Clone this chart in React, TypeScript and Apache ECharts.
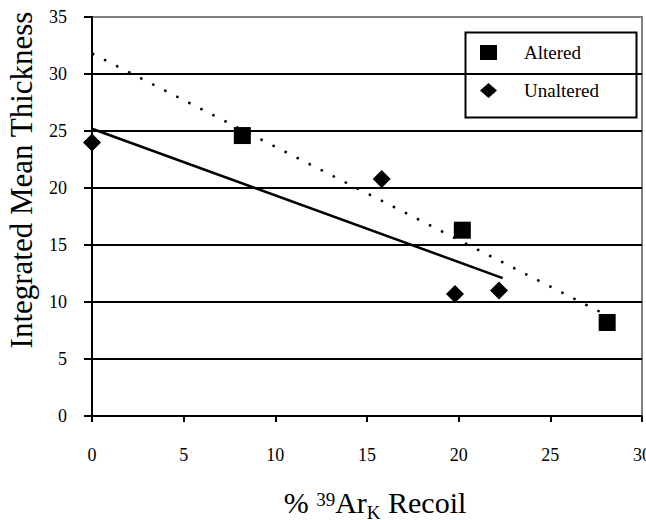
import React, { useEffect, useRef } from 'react';
import * as echarts from 'echarts';

const alteredX = [8.2, 20.2, 28.1];
const alteredY = [24.6, 16.3, 8.2];
const unalteredX = [0, 15.8, 19.8, 22.2];
const unalteredY = [24.0, 20.8, 10.7, 11.0];
const alteredFitX = [0, 28.0];
const alteredFitY = [31.8, 8.9];
const unalteredFitX = [0, 22.4];
const unalteredFitY = [25.2, 12.1];
const seriesNames = ['Altered', 'Unaltered'];
const xTitle = '% {sup|39}Ar{sub|K} Recoil';
const yTitle = 'Integrated Mean Thickness';

const FONT = 'Liberation Serif, Times New Roman, serif';

const zip = (xs: number[], ys: number[]) => xs.map((x, i) => [x, ys[i]]);

export default function App() {
  const ref = useRef<HTMLDivElement>(null);
  useEffect(() => {
    if (!ref.current) return;
    const chart = echarts.init(ref.current, null, { renderer: 'svg' });
    chart.setOption({
      animation: false,
      backgroundColor: '#fff',
      grid: {
        left: 92, right: 4, top: 17, bottom: 104,
        containLabel: false, outerBoundsMode: 'none',
        show: true, borderColor: '#808080', borderWidth: 2,
      },
      xAxis: {
        type: 'value', min: 0, max: 30, interval: 5,
        axisLine: { show: true, lineStyle: { color: '#000', width: 2 } },
        axisTick: { show: true, inside: false, length: 6, lineStyle: { color: '#000', width: 2 } },
        axisLabel: { color: '#000', fontFamily: FONT, fontSize: 18, margin: 30, showMaxLabel: true, hideOverlap: false },
        splitLine: { show: false },
      },
      yAxis: {
        type: 'value', min: 0, max: 35, interval: 5,
        axisLine: { show: true, lineStyle: { color: '#000', width: 2 } },
        axisTick: { show: true, inside: false, length: 8, lineStyle: { color: '#000', width: 2 } },
        axisLabel: { color: '#000', fontFamily: FONT, fontSize: 18, margin: 25 },
        splitLine: {
          show: true,
          lineStyle: { color: ['#000', '#000', '#000', '#000', '#000', '#000', '#000', '#808080'], width: 2 },
        },
      },
      legend: {
        orient: 'vertical',
        left: 475, top: 38,
        itemWidth: 17, itemHeight: 15, itemGap: 19,
        data: [
          { name: seriesNames[0], icon: 'rect', itemStyle: { color: '#000', opacity: 1 } },
          { name: seriesNames[1], icon: 'diamond', itemStyle: { color: '#000', opacity: 1 } },
        ],
        textStyle: { color: '#000', fontFamily: FONT, fontSize: 19, padding: [0, 0, 0, 22] },
      },
      graphic: [
        {
          type: 'rect', left: 463, top: 30, z: 100,
          shape: { x: 0, y: 0, width: 171, height: 85 },
          style: { fill: 'none', stroke: '#000', lineWidth: 2 },
        },
        {
          type: 'text', x: 21, y: 180, rotation: Math.PI / 2, z: 100,
          style: {
            text: yTitle, fill: '#000', fontFamily: FONT, fontSize: 31,
            align: 'center', verticalAlign: 'middle',
          },
        },
        {
          type: 'text', x: 375, y: 502, z: 100,
          style: {
            text: xTitle, fill: '#000', fontFamily: FONT, fontSize: 30,
            align: 'center', verticalAlign: 'middle',
            rich: {
              sup: { fontFamily: FONT, fontSize: 19, verticalAlign: 'top', lineHeight: 19, padding: [8, 0, 0, 0] },
              sub: { fontFamily: FONT, fontSize: 19, verticalAlign: 'bottom', lineHeight: 40 },
            },
          },
        },
      ],
      series: [
        {
          name: 'Altered fit', type: 'line', data: zip(alteredFitX, alteredFitY),
          symbol: 'none', lineStyle: { color: '#000', width: 2.5, type: [2.5, 11] }, z: 2,
          silent: true,
        },
        {
          name: 'Unaltered fit', type: 'line', data: zip(unalteredFitX, unalteredFitY),
          symbol: 'none', lineStyle: { color: '#000', width: 2.5 }, z: 2,
          silent: true,
        },
        {
          name: seriesNames[0], type: 'scatter', data: zip(alteredX, alteredY),
          symbol: 'rect', symbolSize: 17, itemStyle: { color: '#000', opacity: 1 }, z: 3,
        },
        {
          name: seriesNames[1], type: 'scatter', data: zip(unalteredX, unalteredY),
          symbol: 'diamond', symbolSize: 18, itemStyle: { color: '#000', opacity: 1 }, z: 3,
        },
      ],
    });
    return () => chart.dispose();
  }, []);
  return (
    <div
      ref={ref}
      style={{ position: 'fixed', left: 0, top: 0, width: 646, height: 520, background: '#fff' }}
    />
  );
}
